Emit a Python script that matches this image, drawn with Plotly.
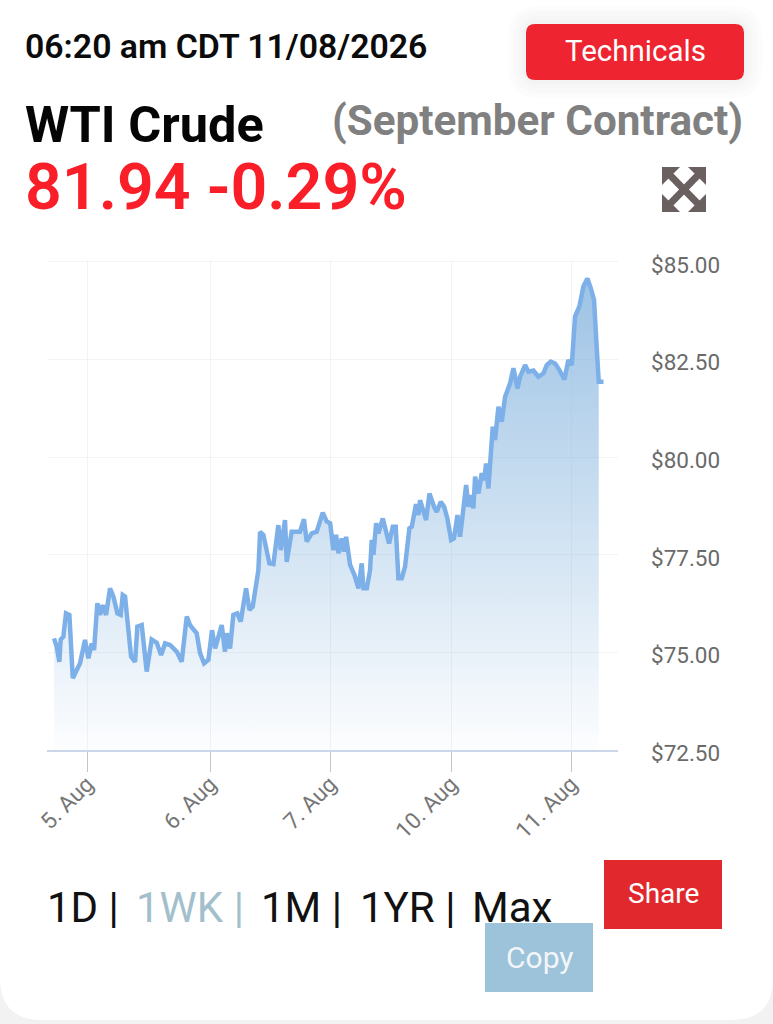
import plotly.graph_objects as go

# Sessions since 5 Aug open (trading-day units) and WTI price
days = [-0.273,-0.251,-0.229,-0.218,-0.196,-0.174,-0.146,-0.118,-0.085,-0.058,-0.017,0.011,0.039,0.058,0.085,0.107,0.129,0.157,0.190,0.218,
        0.251,0.278,0.295,0.314,0.336,0.364,0.397,0.416,0.452,0.493,0.534,0.576,0.612,0.645,0.686,0.741,0.782,0.824,0.851,0.906,
        0.934,0.967,1.003,1.033,1.058,1.085,1.113,1.140,1.154,1.182,1.209,1.242,1.270,1.314,1.342,1.369,1.416,1.430,1.457,1.507,
        1.540,1.581,1.601,1.636,1.650,1.691,1.760,1.793,1.815,1.857,1.898,1.948,1.981,2.009,2.036,2.058,2.078,2.105,2.124,2.141,
        2.174,2.210,2.243,2.270,2.284,2.312,2.339,2.353,2.367,2.389,2.408,2.444,2.463,2.496,2.527,2.551,2.573,2.601,2.628,2.664,
        2.684,2.719,2.739,2.752,2.802,2.830,2.868,2.890,2.923,2.951,2.978,3.009,3.033,3.061,3.083,3.124,3.133,3.152,3.171,3.193,
        3.207,3.235,3.262,3.281,3.298,3.317,3.336,3.353,3.372,3.400,3.427,3.455,3.496,3.524,3.557,3.579,3.620,3.648,3.689,3.730,
        3.772,3.799,3.832,3.868,3.904,3.945,3.978,4.006,4.033,4.069,4.102,4.135,4.163,4.190,4.213,4.229,4.268]
prices = [75.36,75.15,74.76,75.33,75.40,76.00,75.96,74.34,74.55,74.72,75.32,74.85,75.23,75.06,76.26,75.96,76.21,75.96,76.64,76.43,
          76.00,75.96,76.47,76.43,75.75,74.89,74.76,75.66,75.70,74.51,75.33,75.25,74.93,75.23,75.19,75.02,74.76,75.92,75.70,75.49,
          74.98,74.72,74.81,75.57,75.10,75.40,75.70,75.02,75.49,75.10,75.96,76.00,75.79,76.64,76.09,76.17,77.11,78.09,78.01,77.28,
          77.26,78.26,77.62,78.39,77.32,78.09,78.09,78.41,77.84,78.05,78.09,78.58,78.35,78.31,77.62,78.01,77.54,77.92,77.58,77.96,
          77.24,76.98,76.64,77.28,76.64,76.64,77.11,77.88,77.50,78.31,78.05,78.43,78.22,77.79,78.22,78.22,76.90,76.90,77.20,78.18,
          78.22,78.80,78.52,78.90,78.39,79.07,78.73,78.60,78.86,78.73,78.43,77.88,77.92,78.52,77.96,79.12,79.29,78.73,79.03,78.69,
          79.50,79.07,79.59,79.41,79.84,79.20,80.27,80.78,80.44,81.29,80.91,81.55,81.89,82.28,81.76,82.06,82.36,82.19,82.22,82.06,
          82.15,82.36,82.45,82.40,82.23,81.99,82.49,82.36,83.60,83.86,84.37,84.58,84.33,84.03,82.75,81.93,81.93]
tick_days = [0, 1.017, 2.008, 3.008, 4.0]
tick_labels = ["5. Aug", "6. Aug", "7. Aug", "10. Aug", "11. Aug"]
price_ticks = [72.5, 75, 77.5, 80, 82.5, 85]
range_labels = ["1D |", "1WK |", "1M |", "1YR |", "Max"]

W, H = 773, 1024
L, R, T, B = 47, 618, 260, 750
FONT = "Roboto"


def px(x):
    return (x - L) / (R - L)


def py(y):
    return (B - y) / (B - T)


def rect_path(x0, y0, x1, y1, r=(0, 0, 0, 0)):
    tl, tr, br, bl = r
    return (f"M {px(x0+tl)} {py(y0)} L {px(x1-tr)} {py(y0)} Q {px(x1)} {py(y0)} {px(x1)} {py(y0+tr)} "
            f"L {px(x1)} {py(y1-br)} Q {px(x1)} {py(y1)} {px(x1-br)} {py(y1)} "
            f"L {px(x0+bl)} {py(y1)} Q {px(x0)} {py(y1)} {px(x0)} {py(y1-bl)} "
            f"L {px(x0)} {py(y0+tl)} Q {px(x0)} {py(y0)} {px(x0+tl)} {py(y0)} Z")


def poly(points):
    return "M " + " L ".join(f"{px(a)} {py(b)}" for a, b in points) + " Z"


def box(path, color):
    return dict(type="path", xref="paper", yref="paper", path=path, fillcolor=color,
                line=dict(width=0), layer="below")


def label(text, x, y, size, color, weight=400, anchor="left"):
    return dict(text=text, x=px(x), y=py(y), xref="paper", yref="paper", xanchor=anchor, yanchor="middle",
                showarrow=False, borderpad=0, align="left",
                font=dict(family=FONT, size=size, color=color, weight=weight))


fig = go.Figure()
fig.add_trace(go.Scatter(
    x=days[:-1], y=prices[:-1], mode="none", fill="tozeroy", hoverinfo="skip",
    fillgradient=dict(type="vertical", start=72.5, stop=85,
                      colorscale=[[0, "rgba(125,175,220,0.02)"], [1, "rgba(125,175,220,0.78)"]]),
))
fig.add_trace(go.Scatter(x=days, y=prices, mode="lines", line=dict(color="#7db0e8", width=4.5)))

# Expand icon (four outward arrows)
ic0, ic1, jc0, jc1 = 662, 706, 167, 212
ICON = "#6b6060"
icon = [
    box(poly([(ic0 + 5, jc0), (ic1, jc1 - 5), (ic1 - 5, jc1), (ic0, jc0 + 5)]), ICON),
    box(poly([(ic1 - 5, jc0), (ic1, jc0 + 5), (ic0 + 5, jc1), (ic0, jc1 - 5)]), ICON),
]
for sx, sy, ax, ay in [(-1, -1, ic0, jc0), (1, -1, ic1, jc0), (1, 1, ic1, jc1), (-1, 1, ic0, jc1)]:
    icon.append(box(poly([(ax, ay), (ax - sx * 18, ay), (ax, ay - sy * 18)]), ICON))

halo = [box(rect_path(526 - g, 24 - g, 744 + g, 80 + g, (12 + g,) * 4), "rgba(0,0,0,0.012)") for g in (18, 13, 8, 4)]

shapes = [box(rect_path(0, 0, 773, 1020, (0, 0, 42, 42)), "#ffffff")] + halo + [
    box(rect_path(526, 24, 744, 80, (9, 9, 9, 9)), "#ee2530"),
    box(rect_path(604, 860, 722, 929), "#e1282d"),
    box(rect_path(485, 923, 593, 992), "#9cc3da"),
] + icon

range_x = [46, 135, 260, 359, 471]
range_colors = ["#111111", "#a3bfcc", "#111111", "#111111", "#111111"]
annotations = [
    label("06:20 am CDT 11/08/2026", 24, 47, 33.8, "#0b0b0b", 600),
    label("WTI Crude", 24, 124, 50.5, "#050505", 700),
    label("(September Contract)", 331, 121, 42.2, "#808080", 700),
    label("81.94 -0.29%", 24, 187, 64.5, "#fa1e28", 600),
    label("Technicals", 635, 51, 29.5, "#ffffff", 400, "center"),
    label("Share", 663, 893, 28, "#ffffff", 400, "center"),
    label("Copy", 540, 957, 30, "#f2f6f9", 400, "center"),
] + [label(t, x, 907, 42, c) for t, x, c in zip(range_labels, range_x, range_colors)]

fig.update_layout(
    width=W, height=H, autosize=False, showlegend=False,
    margin=dict(l=L, r=W - R, t=T, b=H - B, pad=0),
    paper_bgcolor="#f2f2f2", plot_bgcolor="rgba(0,0,0,0)",
    shapes=shapes, annotations=annotations,
    font=dict(family=FONT, color="#666666"),
    xaxis=dict(range=[-0.331, 4.388], tickvals=tick_days, ticktext=tick_labels, tickangle=-45,
               ticks="outside", ticklen=20, tickwidth=1, tickcolor="#c4c4c4", ticklabelstandoff=-10,
               showgrid=True, gridcolor="#f3f3f3", gridwidth=1,
               showline=True, linecolor="#ccd6eb", linewidth=2, zeroline=False,
               tickfont=dict(family=FONT, size=22.5, color="#777777")),
    yaxis=dict(range=[72.5, 85.051], side="right", tickvals=price_ticks, tickformat="$.2f",
               ticks="", ticklabelstandoff=32, ticklabelshift=3,
               showgrid=True, gridcolor="#f3f3f3", gridwidth=1,
               showline=False, zeroline=False,
               tickfont=dict(family=FONT, size=22.5, color="#6a6a6a")),
)

fig.write_html("out.html", config={"displayModeBar": False},
               post_script="document.body.style.margin='0';")
